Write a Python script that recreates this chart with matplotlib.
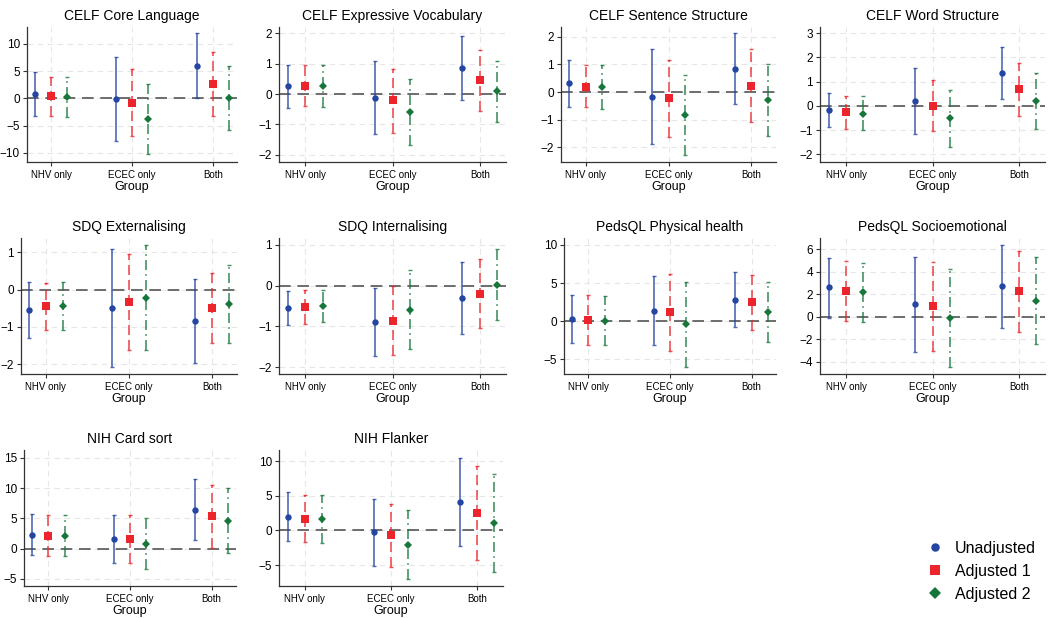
import matplotlib
matplotlib.use("Agg")
import matplotlib.pyplot as plt
from matplotlib.lines import Line2D

plt.rcParams['font.family'] = ['Liberation Sans', 'DejaVu Sans']

titles = ['CELF Core Language', 'CELF Expressive Vocabulary', 'CELF Sentence Structure',
          'CELF Word Structure', 'SDQ Externalising', 'SDQ Internalising',
          'PedsQL Physical health', 'PedsQL Socioemotional', 'NIH Card sort', 'NIH Flanker']
groups = ['NHV only', 'ECEC only', 'Both']
models = ['Unadjusted', 'Adjusted 1', 'Adjusted 2']

# estimates per outcome: [NHV only, ECEC only, Both]
unadj_est = [[0.8, -0.1, 6.0], [0.25, -0.12, 0.86], [0.33, -0.17, 0.84], [-0.16, 0.19, 1.34],
             [-0.55, -0.5, -0.85], [-0.55, -0.89, -0.30], [0.35, 1.4, 2.8], [2.6, 1.1, 2.7],
             [2.3, 1.54, 6.43], [2.0, -0.24, 4.1]]
unadj_lo = [[-3.2, -7.9, 0.0], [-0.47, -1.32, -0.20], [-0.54, -1.88, -0.45], [-0.88, -1.15, 0.27],
            [-1.29, -2.07, -1.97], [-0.97, -1.74, -1.18], [-2.8, -3.1, -0.8], [-0.1, -3.13, -1.0],
            [-1.04, -2.4, 1.43], [-1.48, -5.07, -2.3]]
unadj_hi = [[4.8, 7.6, 12.0], [0.97, 1.08, 1.92], [1.17, 1.55, 2.13], [0.53, 1.55, 2.45],
            [0.20, 1.08, 0.27], [-0.13, -0.05, 0.58], [3.5, 5.9, 6.4], [5.24, 5.3, 6.37],
            [5.66, 5.55, 11.48], [5.55, 4.5, 10.5]]

adj1_est = [[0.4, -0.8, 2.7], [0.28, -0.21, 0.45], [0.2, -0.23, 0.23], [-0.27, 0.01, 0.68],
            [-0.44, -0.33, -0.49], [-0.52, -0.86, -0.20], [0.13, 1.2, 2.5], [2.3, 0.98, 2.3],
            [2.1, 1.6, 5.38], [1.67, -0.67, 2.54]]
adj1_lo = [[-3.2, -7.0, -3.2], [-0.40, -1.29, -0.55], [-0.54, -1.64, -1.08], [-0.96, -1.04, -0.42],
           [-1.08, -1.61, -1.44], [-0.93, -1.70, -1.03], [-3.06, -3.9, -1.2], [-0.42, -3.04, -1.34],
           [-1.26, -2.47, 0.1], [-1.67, -5.2, -4.3]]
adj1_hi = [[4.0, 5.4, 8.5], [0.97, 0.84, 1.45], [0.98, 1.17, 1.55], [0.42, 1.07, 1.79],
           [0.18, 0.96, 0.45], [-0.11, -0.02, 0.65], [3.4, 6.2, 6.1], [4.94, 4.9, 5.83],
           [5.6, 5.55, 10.55], [5.17, 3.88, 9.28]]

adj2_est = [[0.2, -3.8, 0.0], [0.25, -0.60, 0.10], [0.17, -0.83, -0.29], [-0.32, -0.52, 0.21],
            [-0.44, -0.22, -0.38], [-0.50, -0.60, 0.02], [0.04, -0.3, 1.2], [2.17, -0.12, 1.4],
            [2.1, 0.82, 4.56], [1.63, -2.06, 1.15]]
adj2_lo = [[-3.5, -10.2, -5.9], [-0.44, -1.69, -0.92], [-0.63, -2.27, -1.59], [-1.01, -1.70, -0.97],
           [-1.08, -1.63, -1.42], [-0.90, -1.56, -0.84], [-3.1, -6.0, -2.7], [-0.48, -4.5, -2.47],
           [-1.3, -3.4, -0.77], [-1.77, -6.94, -5.93]]
adj2_hi = [[4.0, 2.7, 5.9], [0.97, 0.49, 1.09], [0.98, 0.61, 1.01], [0.40, 0.66, 1.37],
           [0.20, 1.19, 0.67], [-0.11, 0.38, 0.90], [3.3, 5.2, 5.1], [4.82, 4.2, 5.3],
           [5.6, 5.0, 10.0], [5.07, 2.92, 8.18]]

yticks = [[-10, -5, 0, 5, 10], [-2, -1, 0, 1, 2], [-2, -1, 0, 1, 2], [-2, -1, 0, 1, 2, 3],
          [-2, -1, 0, 1], [-2, -1, 0, 1], [-5, 0, 5, 10], [-4, -2, 0, 2, 4, 6],
          [-5, 0, 5, 10, 15], [-5, 0, 5, 10]]
ylims = [(-11.7, 13.1), (-2.24, 2.21), (-2.54, 2.36), (-2.32, 3.26), (-2.26, 1.38),
         (-2.17, 1.17), (-6.9, 10.9), (-5.1, 7.0), (-6.2, 16.3), (-8.0, 11.6)]

colors = ['#2446A0', '#EC252C', '#17773A']
markers = ['o', 's', 'D']
msizes = [4.6, 5.2, 4.2]
linestyles = ['-', (0, (6, 3)), (0, (6, 2.5, 1, 2.5))]

# axes boxes in pixels (left, right, top, bottom)
W, H = 1056, 618
boxes = [(27, 237, 27, 162), (279, 506, 27, 162), (561, 776, 27, 162), (820, 1045, 27, 162),
         (21, 237, 238, 374), (279, 506, 238, 374), (564, 776, 238, 374), (820, 1045, 238, 374),
         (24, 236, 450, 586), (279, 503, 450, 586)]

fig = plt.figure(figsize=(W / 100, H / 100), dpi=100)
series = [(unadj_est, unadj_lo, unadj_hi), (adj1_est, adj1_lo, adj1_hi), (adj2_est, adj2_lo, adj2_hi)]
offsets = [-0.2, 0.0, 0.2]
xpos = [1, 2, 3]

for i, title in enumerate(titles):
    l, r, t, b = boxes[i]
    ax = fig.add_axes([l / W, 1 - b / H, (r - l) / W, (b - t) / H])
    ax.set_axisbelow(True)
    ax.grid(True, color='#e6e6e6', linestyle=(0, (5, 4)), linewidth=0.8)
    ax.axhline(0, color='#555555', linestyle=(0, (7, 4)), linewidth=1.2, zorder=1.5)
    for m, (est, lo, hi) in enumerate(series):
        xs = [x + offsets[m] for x in xpos]
        e = est[i]
        err = [[e[k] - lo[i][k] for k in range(3)], [hi[i][k] - e[k] for k in range(3)]]
        eb = ax.errorbar(xs, e, yerr=err, fmt='none', ecolor=colors[m], elinewidth=1.2,
                         capsize=1.6, capthick=1.0, alpha=0.8, zorder=2)
        eb[2][0].set_linestyle(linestyles[m])
        ax.plot(xs, e, linestyle='none', marker=markers[m], color=colors[m],
                markersize=msizes[m], markeredgewidth=0, zorder=3)
    ax.set_xlim(0.7, 3.3)
    ax.set_ylim(*ylims[i])
    ax.set_xticks(xpos)
    ax.set_xticklabels(groups, fontsize=7)
    ax.set_yticks(yticks[i])
    ax.tick_params(axis='y', labelsize=8.5, length=3, color='#333333', pad=2)
    ax.tick_params(axis='x', length=3, color='#333333', pad=2.5)
    ax.set_xlabel('Group', fontsize=9, labelpad=1)
    ax.set_title(title, fontsize=10, pad=5)
    for side in ['top', 'right']:
        ax.spines[side].set_visible(False)
    for side in ['left', 'bottom']:
        ax.spines[side].set_color('#333333')
        ax.spines[side].set_linewidth(0.9)

handles = [Line2D([], [], linestyle='none', marker=markers[m], color=colors[m],
                  markersize=msizes[m] + 1.5, markeredgewidth=0) for m in range(3)]
fig.legend(handles, models, loc='lower right', bbox_to_anchor=(1050 / W, 2 / H),
           frameon=False, fontsize=11.5, handletextpad=0.6, labelspacing=0.5, handlelength=1.2)

fig.savefig('out.png', dpi=100)
